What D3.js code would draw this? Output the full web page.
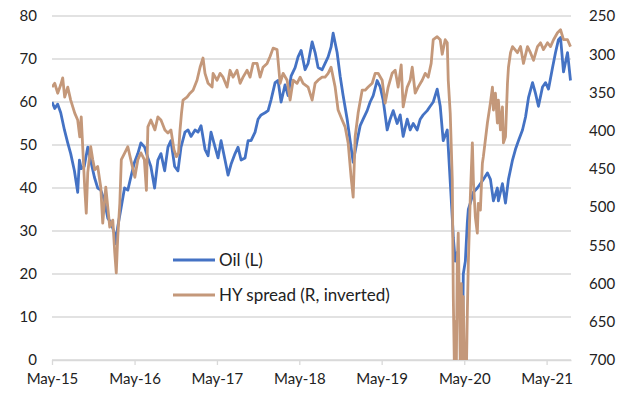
<!DOCTYPE html>
<html>
<head>
<meta charset="utf-8">
<script src="https://cdn.jsdelivr.net/npm/d3@7"></script>
<style>
    body { margin: 0; background: #fff; }
    text { font-family: Lato, "Open Sans", sans-serif; fill: #222; }
</style>
</head>
<body>
<script>
// dates are decimal years
var oilDates = [2015.329, 2015.362, 2015.398, 2015.435, 2015.480, 2015.520, 2015.556, 2015.601, 2015.641, 2015.662,
    2015.684, 2015.720, 2015.763, 2015.803, 2015.844, 2015.884, 2015.921, 2015.966, 2016.006, 2016.042,
    2016.087, 2016.103, 2016.127, 2016.164, 2016.209, 2016.249, 2016.285, 2016.330, 2016.370, 2016.407,
    2016.452, 2016.492, 2016.528, 2016.573, 2016.613, 2016.650, 2016.695, 2016.735, 2016.771, 2016.816,
    2016.856, 2016.893, 2016.941, 2016.978, 2017.014, 2017.063, 2017.099, 2017.136, 2017.184, 2017.221,
    2017.257, 2017.306, 2017.342, 2017.379, 2017.427, 2017.464, 2017.500, 2017.549, 2017.585, 2017.622,
    2017.670, 2017.707, 2017.743, 2017.792, 2017.828, 2017.865, 2017.913, 2017.950, 2017.986, 2018.035,
    2018.071, 2018.108, 2018.156, 2018.193, 2018.229, 2018.278, 2018.314, 2018.351, 2018.399, 2018.436,
    2018.485, 2018.521, 2018.557, 2018.606, 2018.642, 2018.679, 2018.715, 2018.740, 2018.788, 2018.825,
    2018.861, 2018.910, 2018.946, 2018.983, 2019.031, 2019.068, 2019.104, 2019.153, 2019.189, 2019.226,
    2019.274, 2019.311, 2019.347, 2019.396, 2019.432, 2019.469, 2019.517, 2019.554, 2019.590, 2019.639,
    2019.675, 2019.712, 2019.760, 2019.797, 2019.833, 2019.882, 2019.918, 2019.955, 2020.003, 2020.040,
    2020.076, 2020.125, 2020.137, 2020.186, 2020.198, 2020.222, 2020.246, 2020.258, 2020.283, 2020.307,
    2020.319, 2020.344, 2020.368, 2020.380, 2020.404, 2020.441, 2020.489, 2020.526, 2020.562, 2020.611,
    2020.648, 2020.684, 2020.732, 2020.744, 2020.793, 2020.830, 2020.866, 2020.915, 2020.951, 2020.987,
    2021.036, 2021.073, 2021.109, 2021.158, 2021.194, 2021.230, 2021.279, 2021.316, 2021.352, 2021.401,
    2021.437, 2021.473, 2021.498, 2021.534, 2021.583, 2021.619];
var oilValues = [60, 58.5, 59.5, 57.5, 53.5, 50.5, 48, 44, 39, 46.5,
    44.5, 45, 49.5, 46, 42.5, 40, 39.5, 37, 33, 32,
    29.5, 27, 31, 35, 40, 39.5, 42.5, 46, 48, 50.5,
    49.5, 47, 45, 40, 46.5, 48, 44, 49.5, 51, 45,
    44, 49.5, 53, 53.5, 52, 53.5, 53, 54.5, 49, 47.5,
    53, 49.5, 47, 51, 46.5, 43, 45.5, 48, 49.5, 46.5,
    47, 51, 51, 53, 56, 57, 57.5, 58, 60.5, 64.5,
    65, 60, 64, 61.5, 66, 68, 70.5, 72, 67.5, 69,
    74, 71.5, 68, 67.5, 69, 70.5, 72.8, 76, 71.5, 66,
    61.5, 56, 51, 46, 51, 54.5, 56, 58, 60, 61.5,
    65, 63.5, 60.5, 53.5, 56, 58, 55, 57, 52, 56,
    53.5, 55, 53.5, 56, 57, 58, 59, 60, 63, 59,
    51, 53.5, 49.5, 33, 28.5, 23, 25, 19.5, 10, -4,
    20, 23, 32, 35, 36.5, 39, 40, 41, 42, 43.5,
    42, 37, 40, 37, 41, 36.5, 42, 46.5, 49, 51,
    53.5, 56.5, 61, 64.5, 62, 59, 63.5, 64.5, 63, 68,
    71.5, 74.5, 75, 67, 71.5, 65];

var hyDates = [2015.329, 2015.362, 2015.398, 2015.435, 2015.459, 2015.483, 2015.520, 2015.556, 2015.605, 2015.641,
    2015.666, 2015.684, 2015.726, 2015.745, 2015.763, 2015.799, 2015.824, 2015.848, 2015.884, 2015.921,
    2015.945, 2015.982, 2016.030, 2016.067, 2016.091, 2016.109, 2016.127, 2016.152, 2016.170, 2016.212,
    2016.249, 2016.285, 2016.334, 2016.370, 2016.407, 2016.449, 2016.474, 2016.492, 2016.528, 2016.577,
    2016.613, 2016.650, 2016.698, 2016.735, 2016.771, 2016.808, 2016.838, 2016.863, 2016.881, 2016.899,
    2016.917, 2016.966, 2017.002, 2017.039, 2017.087, 2017.124, 2017.160, 2017.184, 2017.221, 2017.270,
    2017.282, 2017.330, 2017.367, 2017.403, 2017.452, 2017.488, 2017.525, 2017.573, 2017.610, 2017.646,
    2017.695, 2017.731, 2017.768, 2017.816, 2017.853, 2017.889, 2017.938, 2017.974, 2018.011, 2018.059,
    2018.071, 2018.096, 2018.132, 2018.181, 2018.217, 2018.254, 2018.302, 2018.339, 2018.375, 2018.436,
    2018.485, 2018.521, 2018.557, 2018.606, 2018.642, 2018.679, 2018.715, 2018.764, 2018.800, 2018.849,
    2018.885, 2018.922, 2018.958, 2018.983, 2019.007, 2019.043, 2019.092, 2019.128, 2019.165, 2019.214,
    2019.250, 2019.286, 2019.335, 2019.371, 2019.408, 2019.456, 2019.493, 2019.529, 2019.566, 2019.590,
    2019.639, 2019.675, 2019.700, 2019.736, 2019.772, 2019.821, 2019.858, 2019.894, 2019.930, 2019.955,
    2020.003, 2020.040, 2020.064, 2020.100, 2020.125, 2020.137, 2020.161, 2020.186, 2020.198, 2020.210,
    2020.222, 2020.234, 2020.246, 2020.258, 2020.271, 2020.283, 2020.295, 2020.307, 2020.319, 2020.332,
    2020.344, 2020.356, 2020.368, 2020.380, 2020.404, 2020.429, 2020.441, 2020.465, 2020.489, 2020.501,
    2020.526, 2020.550, 2020.562, 2020.611, 2020.647, 2020.672, 2020.684, 2020.708, 2020.732, 2020.744,
    2020.769, 2020.793, 2020.805, 2020.830, 2020.854, 2020.866, 2020.891, 2020.915, 2020.975, 2021.012,
    2021.048, 2021.097, 2021.133, 2021.170, 2021.218, 2021.255, 2021.291, 2021.340, 2021.376, 2021.413,
    2021.461, 2021.498, 2021.534, 2021.583, 2021.619];
var hyValues = [343, 338, 351, 340, 331, 356, 343, 360, 377, 386,
    408, 382, 474, 508, 455, 421, 438, 451, 447, 474,
    521, 474, 526, 517, 560, 586, 539, 495, 438, 429,
    421, 438, 461, 438, 429, 438, 478, 395, 386, 399,
    382, 386, 399, 403, 399, 425, 434, 429, 399, 377,
    360, 356, 351, 347, 334, 317, 305, 325, 338, 343,
    325, 334, 325, 330, 343, 321, 330, 321, 338, 330,
    321, 330, 312, 312, 330, 317, 312, 303, 292, 294,
    308, 338, 325, 334, 360, 334, 338, 330, 338, 343,
    360, 338, 334, 330, 330, 325, 317, 343, 373, 386,
    395, 416, 461, 487, 408, 377, 347, 347, 343, 338,
    325, 325, 334, 364, 343, 325, 321, 343, 314, 369,
    343, 334, 317, 351, 343, 334, 325, 330, 312, 281,
    277, 281, 300, 281, 285, 334, 377, 465, 617, 700,
    650, 720, 573, 534, 620, 710, 600, 705, 617, 700,
    687, 720, 638, 573, 487, 416, 465, 513, 534, 495,
    504, 443, 434, 390, 364, 343, 373, 351, 390, 360,
    399, 369, 416, 408, 338, 317, 298, 290, 298, 290,
    312, 290, 298, 308, 290, 285, 294, 285, 290, 281,
    272, 268, 281, 281, 290];

var xTickLabels = ["May-15", "May-16", "May-17", "May-18", "May-19", "May-20", "May-21"];
var leftTicks = [0, 10, 20, 30, 40, 50, 60, 70, 80];
var rightTicks = [250, 300, 350, 400, 450, 500, 550, 600, 650, 700];
var legendLabels = ["Oil (L)", "HY spread (R, inverted)"];
var seriesColors = ["#4472C4", "#C4987A"];

var width = 627, height = 395;
var margin = { top: 16, bottom: 35, left: 52, right: 56 };
var plotW = width - margin.left - margin.right;
var plotH = height - margin.top - margin.bottom;

function toDate(t) {
    var year = Math.floor(t);
    var start = new Date(year, 0, 1);
    var end = new Date(year + 1, 0, 1);
    return new Date(start.getTime() + (t - year) * (end - start));
}

var parseTick = d3.timeParse("%b-%y");
var xScale = d3.scaleTime()
    .domain([toDate(2015.329), toDate(2021.625)])
    .range([0, plotW]);
var yLeft = d3.scaleLinear().domain([0, 80]).range([plotH, 0]);
var yRight = d3.scaleLinear().domain([250, 700]).range([0, plotH]);

var svg = d3.select("body")
    .append("svg")
    .attr("width", width)
    .attr("height", height)
    .append("g")
    .attr("transform", "translate(" + margin.left + "," + margin.top + ")");

// gridlines
svg.append("g")
    .selectAll("line")
    .data(leftTicks)
    .enter()
    .append("line")
    .attr("x1", 0)
    .attr("x2", plotW)
    .attr("y1", function(d) { return yLeft(d); })
    .attr("y2", function(d) { return yLeft(d); })
    .attr("stroke", "#D9D9D9")
    .attr("stroke-width", 1.3);

// x axis
var xAxis = svg.append("g")
    .attr("transform", "translate(0," + plotH + ")")
    .call(d3.axisBottom(xScale)
        .tickValues(xTickLabels.map(function(d) { return parseTick(d); }))
        .tickFormat(d3.timeFormat("%b-%y"))
        .tickSizeInner(5)
        .tickSizeOuter(0)
        .tickPadding(8));
xAxis.select(".domain").attr("stroke", "#D9D9D9").attr("stroke-width", 1.3);
xAxis.selectAll(".tick line").attr("stroke", "#D9D9D9").attr("stroke-width", 1.3);
xAxis.selectAll("text").style("font-size", "15px").attr("fill", "#222");

// left axis
var leftAxis = svg.append("g")
    .call(d3.axisLeft(yLeft).tickValues(leftTicks).tickSize(0).tickPadding(15));
leftAxis.select(".domain").remove();
leftAxis.selectAll("text").style("font-size", "15px").attr("fill", "#222");

// right axis
var rightAxis = svg.append("g")
    .attr("transform", "translate(" + plotW + ",0)")
    .call(d3.axisRight(yRight).tickValues(rightTicks).tickSize(0).tickPadding(18));
rightAxis.select(".domain").remove();
rightAxis.selectAll("text").style("font-size", "15px").attr("fill", "#222");

// lines
svg.append("clipPath")
    .attr("id", "plotClip")
    .append("rect")
    .attr("x", 0)
    .attr("y", -2)
    .attr("width", plotW + 2)
    .attr("height", plotH + 2);

var oilData = oilDates.map(function(d, i) { return { date: toDate(d), value: oilValues[i] }; });
var hyData = hyDates.map(function(d, i) { return { date: toDate(d), value: hyValues[i] }; });

var oilLine = d3.line()
    .x(function(d) { return xScale(d.date); })
    .y(function(d) { return yLeft(d.value); });
var hyLine = d3.line()
    .x(function(d) { return xScale(d.date); })
    .y(function(d) { return yRight(d.value); });

var lines = svg.append("g").attr("clip-path", "url(#plotClip)");
lines.append("path")
    .datum(oilData)
    .attr("d", oilLine)
    .attr("fill", "none")
    .attr("stroke", seriesColors[0])
    .attr("stroke-width", 2.8)
    .attr("stroke-linejoin", "round");
lines.append("path")
    .datum(hyData)
    .attr("d", hyLine)
    .attr("fill", "none")
    .attr("stroke", seriesColors[1])
    .attr("stroke-width", 2.8)
    .attr("stroke-linejoin", "round");

// legend
var legend = svg.append("g").attr("transform", "translate(121,244)");
var items = legend.selectAll("g")
    .data(legendLabels)
    .enter()
    .append("g")
    .attr("transform", function(d, i) { return "translate(0," + (i * 35) + ")"; });
items.append("line")
    .attr("x1", 0)
    .attr("x2", 42)
    .attr("stroke", function(d, i) { return seriesColors[i]; })
    .attr("stroke-width", 2.8);
items.append("text")
    .attr("x", 46)
    .attr("dy", "0.35em")
    .style("font-size", "17px")
    .text(function(d) { return d; });
</script>
</body>
</html>
